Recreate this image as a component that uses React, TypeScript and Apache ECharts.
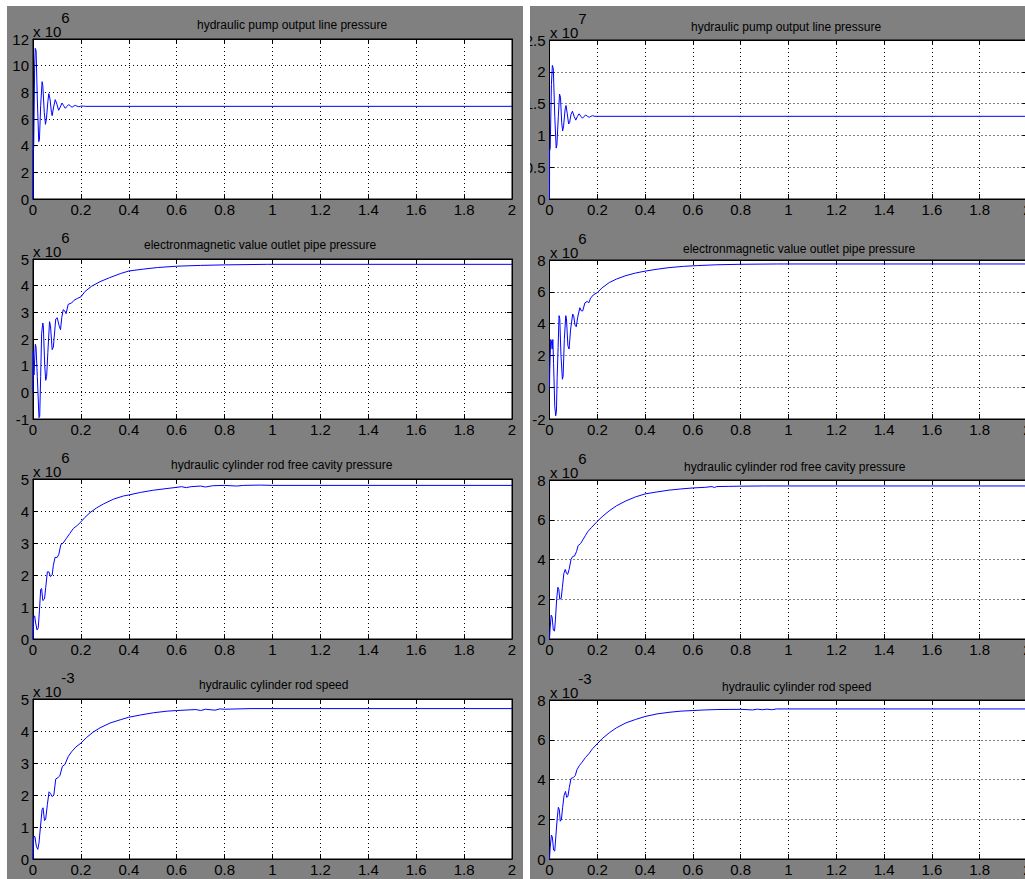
import React, { useEffect, useRef } from "react";
import * as echarts from "echarts";

// ---- data: [time s, value in displayed units] ----
// left figure
const pumpPressureA: number[][] = [
  [0, 0], [0.0005, 3.6], [0.003, 3.9], [0.007, 10], [0.0095, 11.3], [0.013, 11.1], [0.018, 7.5], [0.024, 4.3],
  [0.027, 4.5], [0.032, 7], [0.038, 8.8], [0.041, 8.5], [0.047, 6.5], [0.052, 5.6], [0.056, 6.0], [0.062, 7.3],
  [0.066, 7.9], [0.071, 7.5], [0.077, 6.5], [0.08, 6.25], [0.086, 6.9], [0.093, 7.45], [0.1, 7.1], [0.107, 6.65],
  [0.114, 6.9], [0.121, 7.2], [0.128, 7.0], [0.135, 6.8], [0.142, 6.95], [0.149, 7.08], [0.156, 6.98], [0.163, 6.88],
  [0.17, 6.97], [0.177, 7.02], [0.184, 6.96], [0.191, 6.92], [0.198, 6.96], [0.21, 6.97], [0.22, 6.95], [2, 6.95],
];
const valvePressureA: number[][] = [
  [0, 0], [0.0014, 1.55], [0.004, 0.65], [0.0098, 1.8], [0.0126, 1.7], [0.018, 0.6], [0.025, -0.95], [0.028, -0.9],
  [0.032, 0.6], [0.036, 2.2], [0.041, 2.6], [0.043, 2.5], [0.049, 1.0], [0.053, 0.45], [0.057, 0.6], [0.062, 1.5],
  [0.069, 2.65], [0.073, 2.5], [0.08, 1.6], [0.085, 1.7], [0.095, 2.75], [0.101, 2.8], [0.109, 2.5], [0.115, 2.35],
  [0.12, 2.8], [0.126, 3.1], [0.133, 3.05], [0.138, 2.95], [0.147, 3.3], [0.161, 3.35], [0.171, 3.45], [0.185, 3.52],
  [0.2, 3.58], [0.217, 3.78], [0.245, 3.98], [0.28, 4.15], [0.32, 4.3], [0.364, 4.45], [0.4, 4.55], [0.46, 4.62],
  [0.52, 4.68], [0.6, 4.73], [0.7, 4.76], [0.8, 4.78], [0.98, 4.8], [2, 4.8],
];
const cylinderPressureA: number[][] = [
  [0, 0], [0.003, 0.7], [0.007, 0.72], [0.011, 0.5], [0.017, 0.28], [0.022, 0.35], [0.027, 0.9], [0.032, 1.55],
  [0.036, 1.58], [0.041, 1.2], [0.048, 1.25], [0.053, 1.6], [0.06, 2.1], [0.066, 2.1], [0.073, 1.95], [0.08, 2.0],
  [0.085, 2.3], [0.092, 2.55], [0.101, 2.55], [0.108, 2.65], [0.116, 2.95], [0.126, 3.0], [0.14, 3.15], [0.154, 3.3],
  [0.168, 3.45], [0.185, 3.55], [0.2, 3.66], [0.217, 3.8], [0.238, 3.95], [0.266, 4.1], [0.294, 4.22], [0.336, 4.37],
  [0.378, 4.47], [0.4, 4.5], [0.448, 4.58], [0.503, 4.65], [0.6, 4.74], [0.62, 4.76], [0.64, 4.73], [0.66, 4.76],
  [0.7, 4.78], [0.72, 4.75], [0.75, 4.79], [0.8, 4.8], [0.85, 4.78], [0.88, 4.8], [0.95, 4.81], [1.0, 4.8], [2, 4.8],
];
const rodSpeedA: number[][] = [
  [0, 0], [0.003, 0.7], [0.008, 0.7], [0.014, 0.4], [0.02, 0.3], [0.025, 0.5], [0.031, 1.0], [0.038, 1.55],
  [0.042, 1.6], [0.048, 1.2], [0.053, 1.25], [0.06, 1.7], [0.067, 2.1], [0.073, 2.05], [0.08, 1.95], [0.087, 2.0],
  [0.095, 2.5], [0.105, 2.55], [0.112, 2.6], [0.123, 2.9], [0.133, 2.95], [0.147, 3.2], [0.161, 3.35], [0.179, 3.5],
  [0.2, 3.62], [0.224, 3.8], [0.252, 3.97], [0.28, 4.1], [0.322, 4.25], [0.364, 4.35], [0.4, 4.43], [0.448, 4.5],
  [0.503, 4.57], [0.56, 4.62], [0.6, 4.64], [0.68, 4.67], [0.7, 4.64], [0.72, 4.68], [0.76, 4.65], [0.78, 4.69],
  [0.8, 4.68], [0.91, 4.7], [2, 4.7],
];
// right figure
const pumpPressureB: number[][] = [
  [0, 0], [0.0005, 0.75], [0.003, 0.8], [0.008, 1.8], [0.012, 2.1], [0.016, 2.05], [0.022, 1.3], [0.028, 0.8],
  [0.031, 0.85], [0.037, 1.3], [0.042, 1.65], [0.046, 1.6], [0.051, 1.2], [0.055, 1.07], [0.059, 1.15], [0.065, 1.4],
  [0.069, 1.47], [0.074, 1.35], [0.08, 1.18], [0.084, 1.2], [0.09, 1.33], [0.096, 1.38], [0.103, 1.3], [0.11, 1.24],
  [0.117, 1.3], [0.124, 1.34], [0.131, 1.3], [0.138, 1.27], [0.145, 1.3], [0.152, 1.32], [0.159, 1.3], [0.166, 1.285],
  [0.173, 1.3], [0.18, 1.31], [0.19, 1.3], [0.2, 1.3], [2, 1.3],
];
const valvePressureB: number[][] = [
  [0, 0], [0.001, 1.0], [0.005, 3.0], [0.008, 2.9], [0.011, 2.4], [0.014, 3.0], [0.017, 1.5], [0.022, -1.2],
  [0.026, -1.8], [0.029, -1.5], [0.032, 0.6], [0.036, 2.5], [0.04, 4.5], [0.043, 4.3], [0.048, 2.0], [0.054, 0.5],
  [0.057, 0.7], [0.062, 3.0], [0.068, 4.5], [0.071, 4.3], [0.077, 2.6], [0.082, 2.4], [0.088, 3.6], [0.097, 4.6],
  [0.101, 4.5], [0.107, 3.9], [0.112, 3.8], [0.118, 4.4], [0.127, 5.0], [0.133, 4.8], [0.139, 4.8], [0.148, 5.3],
  [0.158, 5.4], [0.164, 5.3], [0.172, 5.6], [0.183, 5.8], [0.2, 5.95], [0.22, 6.25], [0.25, 6.58], [0.28, 6.8],
  [0.32, 7.02], [0.36, 7.18], [0.4, 7.3], [0.45, 7.42], [0.5, 7.52], [0.56, 7.6], [0.62, 7.65], [0.7, 7.7],
  [0.8, 7.73], [0.95, 7.75], [2, 7.75],
];
const cylinderPressureB: number[][] = [
  [0, 0], [0.003, 0.6], [0.007, 1.2], [0.011, 1.1], [0.016, 0.45], [0.021, 0.4], [0.025, 1.0], [0.03, 2.0],
  [0.035, 2.6], [0.039, 2.5], [0.043, 2.0], [0.049, 2.05], [0.054, 2.6], [0.06, 3.3], [0.066, 3.5], [0.071, 3.3],
  [0.076, 3.25], [0.082, 3.5], [0.09, 4.0], [0.097, 4.15], [0.105, 4.18], [0.113, 4.4], [0.12, 4.7], [0.13, 4.8],
  [0.14, 5.0], [0.15, 5.2], [0.16, 5.4], [0.175, 5.6], [0.2, 5.92], [0.22, 6.15], [0.25, 6.45], [0.28, 6.7],
  [0.32, 6.95], [0.36, 7.15], [0.4, 7.3], [0.45, 7.4], [0.5, 7.49], [0.55, 7.55], [0.6, 7.6], [0.65, 7.63],
  [0.68, 7.67], [0.69, 7.62], [0.7, 7.67], [0.75, 7.68], [0.8, 7.69], [0.9, 7.7], [2, 7.7],
];
const rodSpeedB: number[][] = [
  [0, 0], [0.003, 0.6], [0.008, 1.2], [0.012, 1.1], [0.017, 0.45], [0.022, 0.4], [0.027, 1.2], [0.032, 2.0],
  [0.037, 2.6], [0.041, 2.5], [0.045, 1.9], [0.05, 2.0], [0.055, 2.6], [0.061, 3.2], [0.067, 3.4], [0.072, 3.1],
  [0.077, 3.15], [0.083, 3.6], [0.09, 4.05], [0.1, 4.1], [0.108, 4.2], [0.115, 4.5], [0.125, 4.7], [0.135, 4.85],
  [0.15, 5.1], [0.165, 5.3], [0.18, 5.55], [0.2, 5.8], [0.22, 6.05], [0.25, 6.35], [0.28, 6.6], [0.32, 6.85],
  [0.36, 7.02], [0.4, 7.17], [0.45, 7.3], [0.5, 7.38], [0.55, 7.44], [0.6, 7.47], [0.65, 7.5], [0.7, 7.52],
  [0.8, 7.53], [0.85, 7.5], [0.87, 7.54], [0.89, 7.51], [0.91, 7.54], [0.93, 7.51], [0.95, 7.55], [1.0, 7.55], [2, 7.55],
];

const titles = [
  "hydraulic pump output line pressure",
  "electronmagnetic value outlet pipe pressure",
  "hydraulic cylinder rod free cavity pressure",
  "hydraulic cylinder rod speed",
];
// y-axis [min, max, step] and exponent labels
const yRangesA = [[0, 12, 2], [-1, 5, 1], [0, 5, 1], [0, 5, 1]];
const yRangesB = [[0, 2.5, 0.5], [-2, 8, 2], [0, 8, 2], [0, 8, 2]];
const exponentsA = ["6", "6", "6", "-3"];
const exponentsB = ["7", "6", "6", "-3"];
const xRange = [0, 2, 0.2];

const FONT = "'Liberation Sans Narrow', 'Liberation Sans', Arial, sans-serif";
const TFONT = "'Liberation Sans', Arial, sans-serif";

export default function App() {
  const ref = useRef<HTMLDivElement>(null);
  useEffect(() => {
    if (!ref.current) return;
    const chart = echarts.init(ref.current, undefined, { renderer: "svg" });

    const dataA = [pumpPressureA, valvePressureA, cylinderPressureA, rodSpeedA];
    const dataB = [pumpPressureB, valvePressureB, cylinderPressureB, rodSpeedB];

    const plots: any[] = [];
    const topsA = [39, 259, 479, 699];
    const topsB = [40, 260, 480, 700];
    const titleA = [[197, 25], [144, 245], [171, 465], [199, 685]];
    const titleB = [[691, 27], [683, 249], [684, 467], [722, 687]];
    for (let i = 0; i < 4; i++) {
      plots.push({
        data: dataA[i], y: yRangesA[i], exp: exponentsA[i],
        left: 33, top: topsA[i], width: 479, height: 160,
        title: titles[i], tx: titleA[i][0], ty: titleA[i][1],
        ex: 33, ey: topsA[i] - 15,
      });
    }
    for (let i = 0; i < 4; i++) {
      plots.push({
        data: dataB[i], y: yRangesB[i], exp: exponentsB[i],
        left: 549.5, top: topsB[i], width: 478, height: 159,
        title: titles[i], tx: titleB[i][0], ty: titleB[i][1],
        ex: 550, ey: topsB[i] - 15,
      });
    }

    const grid: any[] = [];
    const xAxis: any[] = [];
    const yAxis: any[] = [];
    const series: any[] = [];
    const graphic: any[] = [];
    const dotted = { color: "#000", width: 1, type: [1, 3] };

    plots.forEach((p, i) => {
      grid.push({
        left: p.left, top: p.top, width: p.width, height: p.height,
        outerBoundsMode: "none", containLabel: false,
        show: true, backgroundColor: "#fff", borderColor: "#000", borderWidth: 1,
      });
      xAxis.push({
        type: "value", gridIndex: i, min: xRange[0], max: xRange[1], interval: xRange[2],
        axisLine: { show: true, onZero: false, lineStyle: { color: "#000" } },
        axisTick: { show: true, inside: true, length: 5, lineStyle: { color: "#000" } },
        axisLabel: { color: "#000", fontFamily: FONT, fontSize: 15, margin: 3 },
        splitLine: { show: true, lineStyle: dotted },
      });
      yAxis.push({
        type: "value", gridIndex: i, min: p.y[0], max: p.y[1], interval: p.y[2],
        axisLine: { show: true, onZero: false, lineStyle: { color: "#000" } },
        axisTick: { show: true, inside: true, length: 5, lineStyle: { color: "#000" } },
        axisLabel: { color: "#000", fontFamily: FONT, fontSize: 15, margin: 4 },
        splitLine: { show: true, lineStyle: dotted },
      });
      series.push({
        type: "line", xAxisIndex: i, yAxisIndex: i, data: p.data, showSymbol: false, symbol: "none",
        lineStyle: { color: "#0000ff", width: 1 }, clip: true, silent: true,
      });
      graphic.push({
        type: "text", x: p.tx, y: p.ty, z: 50,
        style: { text: p.title, fill: "#000", font: `12px ${TFONT}`, align: "left", verticalAlign: "middle" },
      });
      graphic.push({
        type: "text", x: p.ex, y: p.ey, z: 50,
        style: {
          text: `{b|x 10}{s|${p.exp}}`, fill: "#000", align: "left", verticalAlign: "middle",
          rich: {
            b: { fontFamily: FONT, fontSize: 15, lineHeight: 29, verticalAlign: "bottom", fill: "#000" },
            s: { fontFamily: FONT, fontSize: 15, lineHeight: 29, verticalAlign: "top", fill: "#000" },
          },
        },
      });
    });
    // secondary axes for the box ticks on top and right
    plots.forEach((p, i) => {
      xAxis.push({
        type: "value", gridIndex: i, position: "top", min: xRange[0], max: xRange[1], interval: xRange[2],
        axisLine: { show: true, onZero: false, lineStyle: { color: "#000" } },
        axisTick: { show: true, inside: true, length: 5, lineStyle: { color: "#000" } },
        axisLabel: { show: false }, splitLine: { show: false },
      });
      yAxis.push({
        type: "value", gridIndex: i, position: "right", min: p.y[0], max: p.y[1], interval: p.y[2],
        axisLine: { show: true, onZero: false, lineStyle: { color: "#000" } },
        axisTick: { show: true, inside: true, length: 5, lineStyle: { color: "#000" } },
        axisLabel: { show: false }, splitLine: { show: false },
      });
    });

    // white margins and the gap between the two figures
    graphic.push({ type: "rect", z: 100, shape: { x: 0, y: 0, width: 1025, height: 6 }, style: { fill: "#fff" } });
    graphic.push({ type: "rect", z: 100, shape: { x: 0, y: 0, width: 7, height: 879 }, style: { fill: "#fff" } });
    graphic.push({ type: "rect", z: 100, shape: { x: 523, y: 0, width: 7, height: 879 }, style: { fill: "#fff" } });

    chart.setOption({
      animation: false,
      backgroundColor: "#808080",
      grid, xAxis, yAxis, series, graphic,
    });
    return () => chart.dispose();
  }, []);
  return (
    <div style={{ position: "absolute", left: 0, top: 0, width: 1025, height: 879, overflow: "hidden" }}>
      <div ref={ref} style={{ width: 1025, height: 879 }} />
    </div>
  );
}
